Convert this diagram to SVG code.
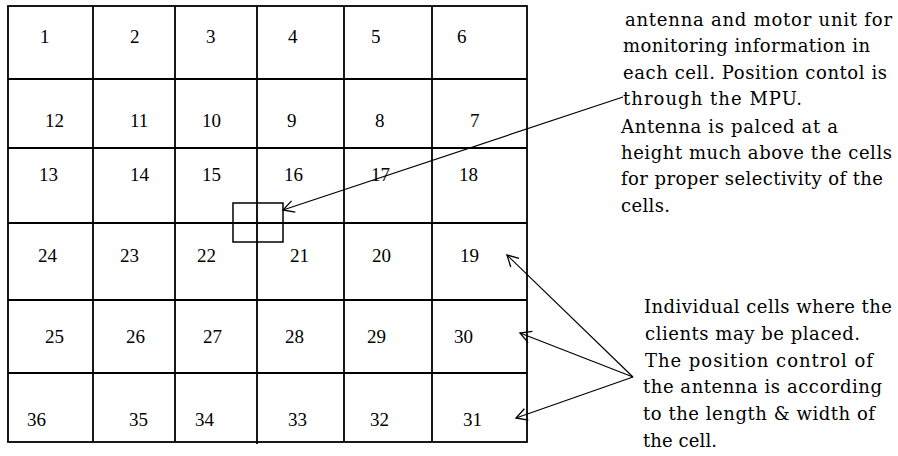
<svg xmlns="http://www.w3.org/2000/svg" width="898" height="456" viewBox="0 0 898 456">
<style>
.grid{fill:none;stroke:#000;stroke-width:1.8}
.num{font-family:"Liberation Serif","Times New Roman",serif;font-size:19px;fill:#000}
.note{font-family:"DejaVu Serif",serif;font-size:18px;fill:#000}
.conn{fill:none;stroke:#000;stroke-width:1.2}
</style>
<defs>
<marker id="open" markerUnits="userSpaceOnUse" markerWidth="16" markerHeight="16" refX="12" refY="7" orient="auto" overflow="visible">
<path d="M1,1 L12,7 L1,13" fill="none" stroke="#000" stroke-width="1.3"/>
</marker>
</defs>
<rect width="898" height="456" fill="#fff"/>
<g id="grid">
<rect class="grid" x="8" y="6" width="519" height="436"/>
<path class="grid" d="M93,6V442M175,6V442M257,6V444M344,6V442M432,6V442M8,79H527M8,148H527M8,223H527M8,300H527M8,373H527"/>
</g>
<g id="cells" class="num">
<text x="40" y="43">1</text><text x="130" y="43">2</text><text x="206" y="43">3</text><text x="288" y="43">4</text><text x="371" y="43">5</text><text x="457" y="43">6</text>
<text x="45" y="127">12</text><text x="130" y="127">11</text><text x="202" y="127">10</text><text x="287" y="127">9</text><text x="375" y="127">8</text><text x="470" y="127">7</text>
<text x="39" y="181">13</text><text x="130" y="181">14</text><text x="202" y="181">15</text><text x="284" y="181">16</text><text x="371" y="181">17</text><text x="459" y="181">18</text>
<text x="38" y="262">24</text><text x="120" y="262">23</text><text x="197" y="262">22</text><text x="290" y="262">21</text><text x="372" y="262">20</text><text x="460" y="262">19</text>
<text x="45" y="343">25</text><text x="126" y="343">26</text><text x="203" y="343">27</text><text x="285" y="343">28</text><text x="367" y="343">29</text><text x="454" y="343">30</text>
<text x="27" y="426">36</text><text x="129" y="426">35</text><text x="195" y="426">34</text><text x="288" y="426">33</text><text x="370" y="426">32</text><text x="463" y="426">31</text>
</g>
<g id="antenna">
<rect x="233" y="203" width="50" height="39" fill="none" stroke="#000" stroke-width="1.5"/>
</g>
<g id="note-antenna" class="note">
<text x="625" y="26" textLength="267" lengthAdjust="spacing">antenna and motor unit for</text>
<text x="623" y="52" textLength="247" lengthAdjust="spacing">monitoring information in</text>
<text x="623" y="79" textLength="264" lengthAdjust="spacing">each cell. Position contol is</text>
<text x="623" y="105" textLength="179" lengthAdjust="spacing">through the MPU.</text>
<text x="621" y="133" textLength="217" lengthAdjust="spacing">Antenna is palced at a</text>
<text x="621" y="159" textLength="271" lengthAdjust="spacing">height much above the cells</text>
<text x="621" y="185" textLength="262" lengthAdjust="spacing">for proper selectivity of the</text>
<text x="621" y="212" textLength="49" lengthAdjust="spacing">cells.</text>
</g>
<g id="note-cells" class="note">
<text x="644" y="313" textLength="248" lengthAdjust="spacing">Individual cells where the</text>
<text x="645" y="340" textLength="215" lengthAdjust="spacing">clients may be placed.</text>
<text x="645" y="367" textLength="228" lengthAdjust="spacing">The position control of</text>
<text x="643" y="393" textLength="239" lengthAdjust="spacing">the antenna is according</text>
<text x="643" y="420" textLength="232" lengthAdjust="spacing">to the length &amp; width of</text>
<text x="643" y="447" textLength="74" lengthAdjust="spacing">the cell.</text>
</g>
<g id="connectors">
<line class="conn" x1="623" y1="97" x2="283" y2="210" marker-end="url(#open)"/>
<line class="conn" x1="633" y1="377" x2="507" y2="255" marker-end="url(#open)"/>
<line class="conn" x1="633" y1="377" x2="520" y2="333" marker-end="url(#open)"/>
<line class="conn" x1="633" y1="377" x2="516" y2="418" marker-end="url(#open)"/>
</g>
</svg>
